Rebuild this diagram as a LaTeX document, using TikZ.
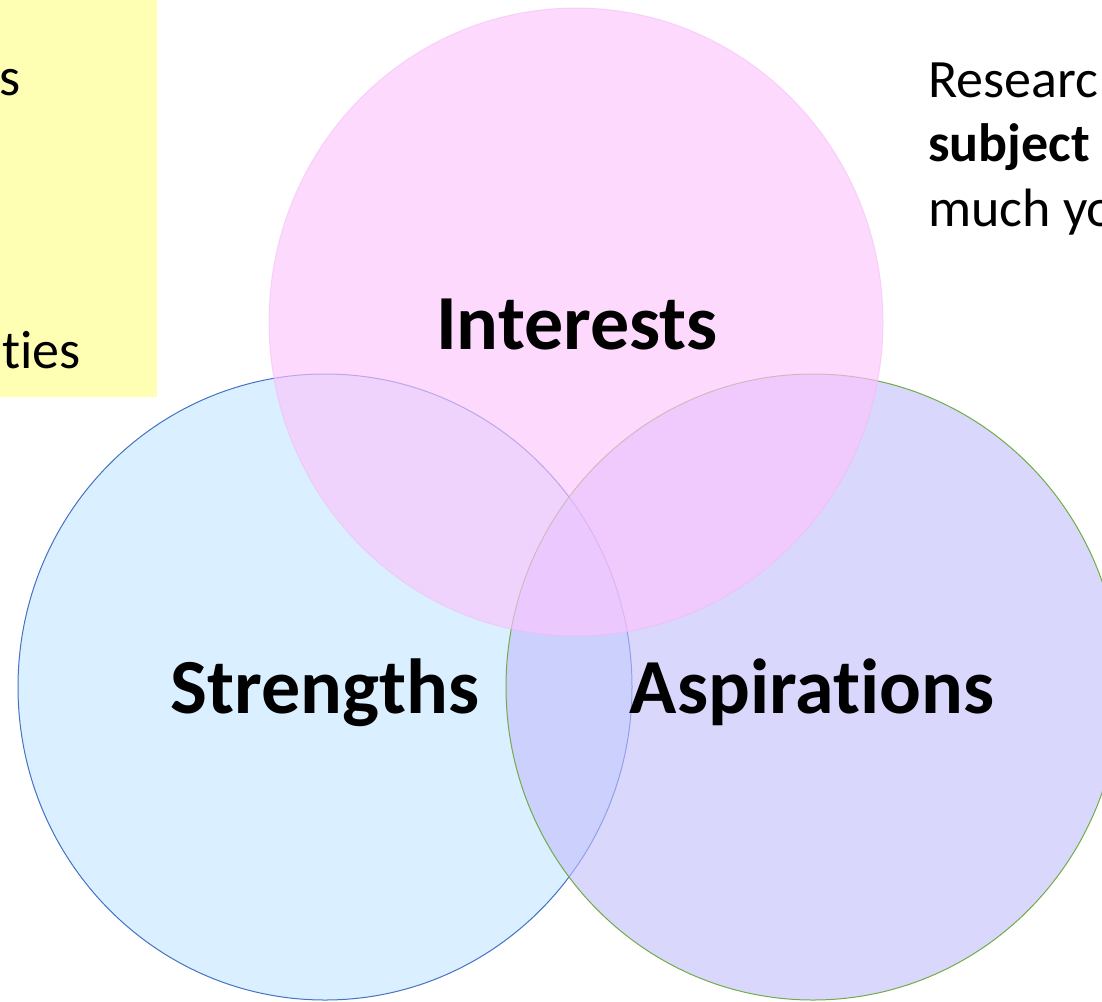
\documentclass[tikz,border=0pt]{standalone}
\usepackage{fontspec}
\setmainfont[Ligatures={NoCommon}]{Carlito}
\definecolor{yellowbg}{RGB}{255,255,180}
\definecolor{fillblue}{RGB}{218,239,255}
\definecolor{lineblue}{RGB}{68,114,196}
\definecolor{fillasp}{RGB}{195,190,252}
\definecolor{linegreen}{RGB}{112,173,71}
\definecolor{fillpink}{RGB}{253,196,253}
\definecolor{linepink}{RGB}{240,185,240}
\tikzset{
  bigtext/.style={font=\fontsize{78}{94}\selectfont\bfseries, inner sep=0pt},
  sidetext/.style={font=\fontsize{54}{64}\selectfont, inner sep=0pt},
  sidebold/.style={font=\fontsize{54}{64}\selectfont\bfseries, inner sep=0pt},
}
\begin{document}
\begin{tikzpicture}[x=1pt,y=-1pt]
\useasboundingbox (0,0) rectangle (1102,1001);
\clip (0,0) rectangle (1102,1001);
% yellow note box, cut at the left edge
\fill[yellowbg] (0,0) rectangle (157,397);
\node[sidetext, anchor=base east] (ys) at (21,95) {s};
\node[sidetext, anchor=base east] (yties) at (81,368) {ties};
% text at the top right, cut at the right edge
\node[sidetext, anchor=base west] (r1) at (928,97) {Researc};
\node[sidebold, anchor=base west] (r2) at (928,161) {subject};
\node[sidetext, anchor=base west] (r3) at (928,226) {much yo};
% circles
\path[fill=fillblue, draw=lineblue, line width=1pt]
  (325,687) ellipse [x radius=307, y radius=313];
\path[fill=fillasp, fill opacity=0.62, draw=linegreen, line width=1pt]
  (813,687) ellipse [x radius=307, y radius=313];
\path[fill=fillpink, fill opacity=0.65, draw=linepink, draw opacity=0.5, line width=1pt]
  (576,322) ellipse [x radius=307, y radius=314];
% labels
\node[bigtext, anchor=base] (interests) at (577,349) {Interests};
\node[bigtext, anchor=base] (strengths) at (325,713) {Strengths};
\node[bigtext, anchor=base] (aspirations) at (812,713) {Aspirations};
\end{tikzpicture}
\end{document}
